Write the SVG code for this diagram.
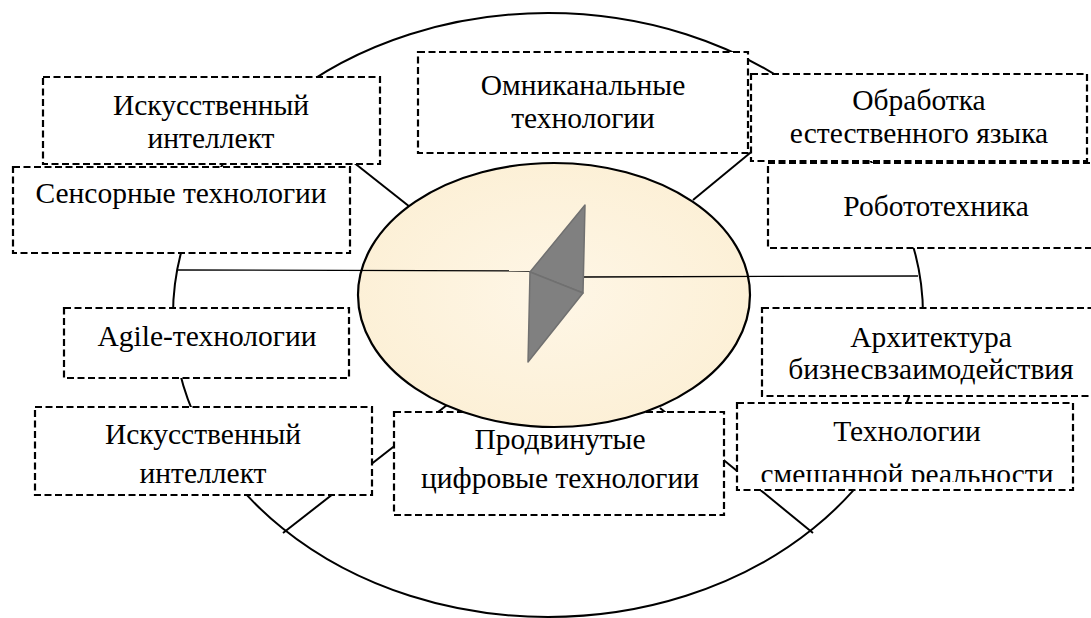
<svg xmlns="http://www.w3.org/2000/svg" width="1091" height="618" viewBox="0 0 1091 618">
<style>
.box{fill:#fff;stroke:#000;stroke-width:2.2;stroke-dasharray:7 3.5}
.line{stroke:#000;stroke-width:2;fill:none}
.thin{stroke:#000;stroke-width:1.3;fill:none}
</style>
<defs>
<radialGradient id="bg" cx="0.5" cy="0.5" r="0.6">
<stop offset="0" stop-color="#FEF6E6"/>
<stop offset="1" stop-color="#FCEFD4"/>
</radialGradient>
<clipPath id="clipJ"><rect x="737" y="403" width="336" height="79"/></clipPath>
</defs>
<g id="outer">
<ellipse cx="548" cy="315" rx="375" ry="302" class="line" stroke-width="2.2"/>
</g>
<g id="connectors">
<line x1="410" y1="207" x2="300" y2="120" class="line"/>
<line x1="693" y1="200" x2="790" y2="120" class="line"/>
<line x1="447" y1="405" x2="283" y2="533" class="line"/>
<line x1="660" y1="408" x2="813" y2="533" class="line"/>
</g>
<g font-family="Liberation Serif, serif" font-size="29.5" text-anchor="middle">
<g id="node-ai-top"><rect class="box" x="43" y="77" width="337" height="87"/><text x="211" y="115">Искусственный</text><text x="211" y="148">интеллект</text></g>
<g id="node-sensor"><rect class="box" x="13" y="167" width="337" height="86"/><text x="181" y="203">Сенсорные технологии</text></g>
<g id="node-omni"><rect class="box" x="418" y="52" width="330" height="101"/><text x="583" y="95">Омниканальные</text><text x="583" y="128">технологии</text></g>
<g id="node-nlp"><rect class="box" x="751" y="74" width="336" height="87"/><text x="919" y="110">Обработка</text><text x="919" y="143">естественного языка</text></g>
<g id="node-robot"><rect class="box" x="768" y="163" width="340" height="85"/><text x="936" y="216">Робототехника</text></g>
<g id="node-agile"><rect class="box" x="64" y="308" width="285" height="70"/><text x="207" y="346">Agile-технологии</text></g>
<g id="node-ai-bottom"><rect class="box" x="35" y="407" width="337" height="88"/><text x="203" y="444">Искусственный</text><text x="203" y="483">интеллект</text></g>
<g id="node-arch"><rect class="box" x="762" y="308" width="345" height="88"/><text x="931" y="347">Архитектура</text><text x="931" y="379">бизнесвзаимодействия</text></g>
<g id="node-mixed"><rect class="box" x="737" y="403" width="336" height="87"/><text x="907" y="441">Технологии</text><text x="907" y="484" clip-path="url(#clipJ)">смешанной реальности</text></g>
<g id="node-advanced"><rect class="box" x="394" y="412" width="330" height="103"/><text x="560" y="449">Продвинутые</text><text x="560" y="488">цифровые технологии</text></g>
</g>
<g id="center">
<ellipse cx="554" cy="295" rx="196" ry="132" fill="url(#bg)" stroke="#000" stroke-width="2.2"/>
<line x1="178" y1="270" x2="530" y2="271" class="thin"/>
<line x1="583" y1="277" x2="918" y2="276" class="thin"/>
<polygon points="530,272 585,205 583,293" fill="#808080" stroke="#707070" stroke-width="1.5" stroke-linejoin="round"/>
<polygon points="530,272 583,293 528,362" fill="#808080" stroke="#707070" stroke-width="1.5" stroke-linejoin="round"/>
</g>
</svg>
